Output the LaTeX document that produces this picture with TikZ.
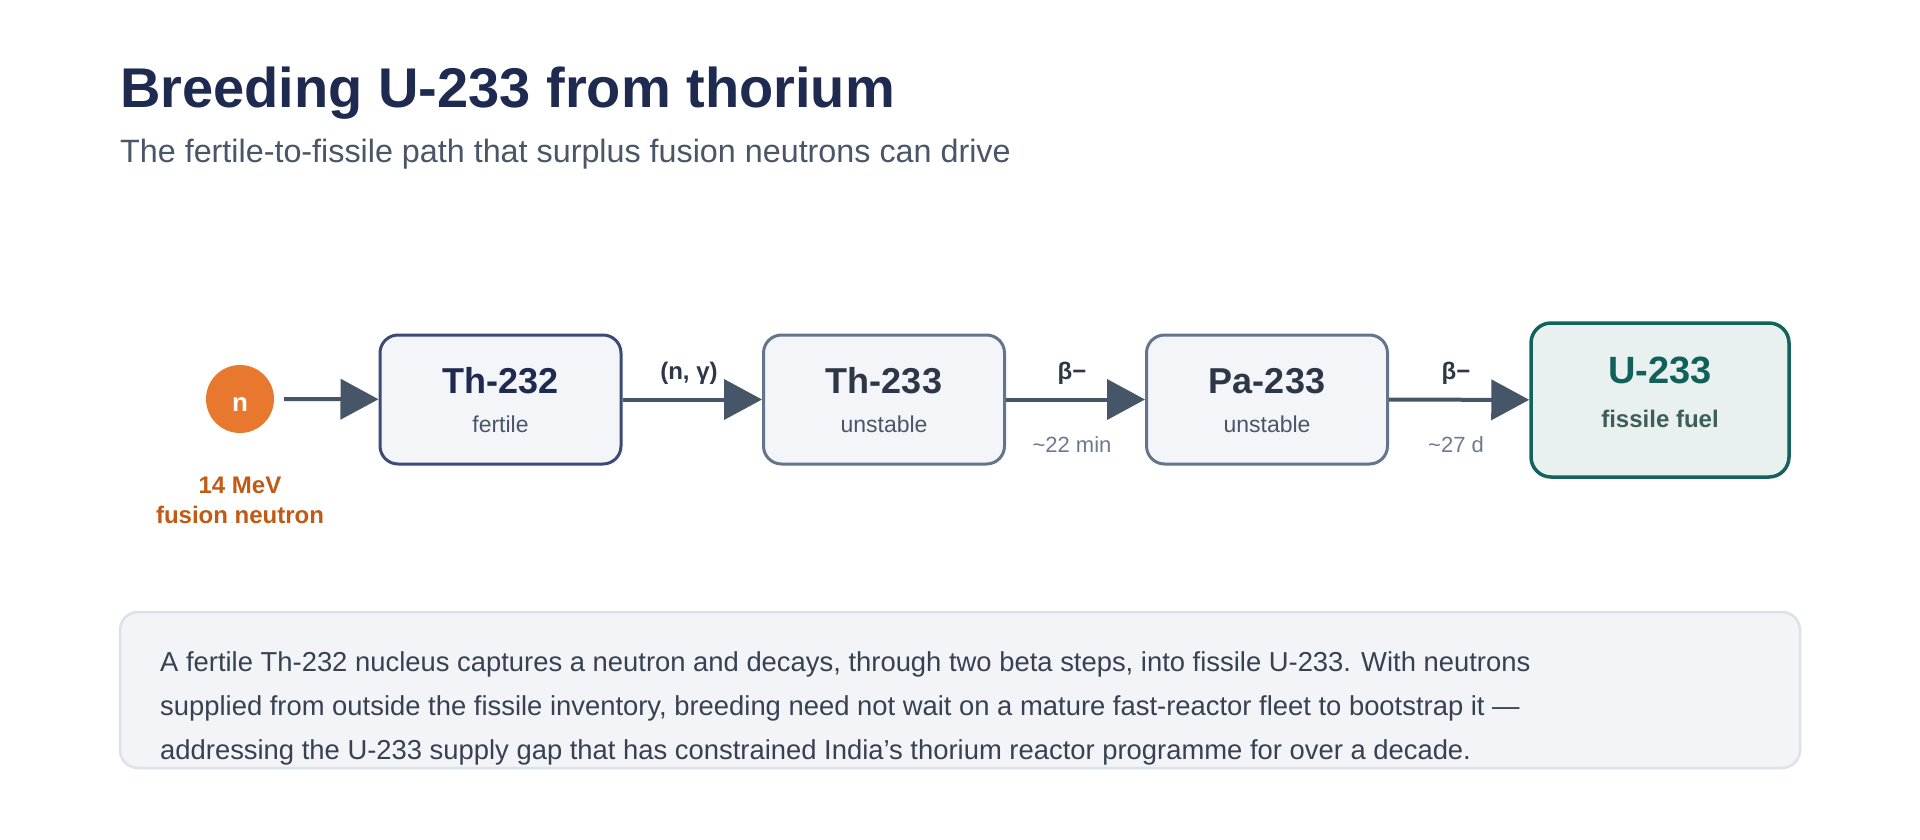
\documentclass[tikz,border=0pt]{standalone}
\usepackage{fontspec}
\setmainfont{Liberation Sans}
\usetikzlibrary{arrows.meta}
\definecolor{titlec}{HTML}{1E2A4F}
\definecolor{subc}{HTML}{4A5568}
\definecolor{boxfill}{HTML}{F3F5F9}
\definecolor{navyborder}{HTML}{3B4A78}
\definecolor{grayborder}{HTML}{64748B}
\definecolor{arrowc}{HTML}{475569}
\definecolor{tealborder}{HTML}{13625C}
\definecolor{tealfill}{HTML}{E8F1F0}
\definecolor{tealtext}{HTML}{11615A}
\definecolor{tealsub}{HTML}{3E5E5A}
\definecolor{orangec}{HTML}{E8782E}
\definecolor{orangetext}{HTML}{C05A14}
\definecolor{timec}{HTML}{6B7A90}
\definecolor{nodetitle}{HTML}{2D3748}
\definecolor{notefill}{HTML}{F3F4F7}
\definecolor{noteborder}{HTML}{DDE1E8}
\definecolor{notetext}{HTML}{374151}
\tikzset{
  stagebox/.style={draw, line width=3pt, rounded corners=18pt, fill=boxfill, minimum width=241pt, minimum height=129pt, inner sep=0pt},
  txt/.style={inner sep=0pt, anchor=base},
  bigname/.style={txt, font=\fontsize{36}{40}\selectfont\bfseries},
  smallname/.style={txt, font=\fontsize{23}{27}\selectfont, text=subc},
  steplabel/.style={txt, font=\fontsize{24}{28}\selectfont\bfseries, text=nodetitle},
  timelabel/.style={txt, font=\fontsize{22}{26}\selectfont, text=timec},
  flow/.style={draw=arrowc, line width=4pt, -{Triangle[length=38pt,width=40pt]}},
  notetxt/.style={inner sep=0pt, anchor=base west, font=\fontsize{27.4}{32}\selectfont, text=notetext}
}
\begin{document}
\begin{tikzpicture}[x=1pt,y=-1pt]
\useasboundingbox[fill=white] (0,0) rectangle (1920,840);
% title
\node[inner sep=0pt, anchor=base west, font=\fontsize{56}{64}\selectfont\bfseries, text=titlec] (title) at (120,108) {Breeding U-233 from thorium};
\node[inner sep=0pt, anchor=base west, font=\fontsize{32.3}{38}\selectfont, text=subc] (subtitle) at (120,163) {The fertile-to-fissile path that surplus fusion neutrons can drive};
% neutron
\node[circle, fill=orangec, minimum size=68pt, inner sep=0pt] (n) at (240,399) {};
\node[txt, text=white, font=\fontsize{26}{30}\selectfont\bfseries] (nlabel) at (240,411) {n};
\node[txt, font=\fontsize{24}{28}\selectfont\bfseries, text=orangetext] (mev) at (240,493) {14 MeV};
\node[txt, font=\fontsize{24}{28}\selectfont\bfseries, text=orangetext] (fus) at (240,523) {fusion neutron};
% boxes
\node[stagebox, draw=navyborder] (b1) at (500.5,399.5) {};
\node[stagebox, draw=grayborder] (b2) at (884,399.5) {};
\node[stagebox, draw=grayborder] (b3) at (1267,399.5) {};
\node[stagebox, draw=tealborder, fill=tealfill, line width=3.5pt, minimum width=258pt, minimum height=154pt, rounded corners=20pt] (b4) at (1660,400) {};
% box texts
\node[bigname, text=titlec] (t1) at (500.5,393) {Th-232};
\node[smallname] (s1) at (500.5,432) {fertile};
\node[bigname, text=nodetitle] (t2) at (884,393) {Th-233};
\node[smallname] (s2) at (884,432) {unstable};
\node[bigname, text=nodetitle] (t3) at (1267,393) {Pa-233};
\node[smallname] (s3) at (1267,432) {unstable};
\node[bigname, text=tealtext, font=\fontsize{38}{42}\selectfont\bfseries] (t4) at (1660,383) {U-233};
\node[txt, font=\fontsize{24}{28}\selectfont\bfseries, text=tealsub] (s4) at (1660,427) {fissile fuel};
% arrows
\draw[flow, shorten <=10pt] (n) -- (b1);
\draw[flow] (b1) -- (b2);
\draw[flow] (b2) -- (b3);
\draw[flow] (b3) -- (b4);
% arrow labels
\node[steplabel] (l1) at (689,379) {(n, γ)};
\node[steplabel] (l2) at (1072,379) {β−};
\node[timelabel] (m2) at (1072,452) {\textasciitilde22 min};
\node[steplabel] (l3) at (1456,379) {β−};
\node[timelabel] (m3) at (1456,452) {\textasciitilde27 d};
% note
\node[draw=noteborder, fill=notefill, line width=2.5pt, rounded corners=18pt, minimum width=1680pt, minimum height=156pt, inner sep=0pt] (note) at (960,690) {};
\node[notetxt] (p1) at (160,671) {A fertile Th-232 nucleus captures a neutron and decays, through two beta steps, into fissile U-233. With neutrons};
\node[notetxt] (p2) at (160,715) {supplied from outside the fissile inventory, breeding need not wait on a mature fast-reactor fleet to bootstrap it —};
\node[notetxt] (p3) at (160,759) {addressing the U-233 supply gap that has constrained India’s thorium reactor programme for over a decade.};
\end{tikzpicture}
\end{document}
